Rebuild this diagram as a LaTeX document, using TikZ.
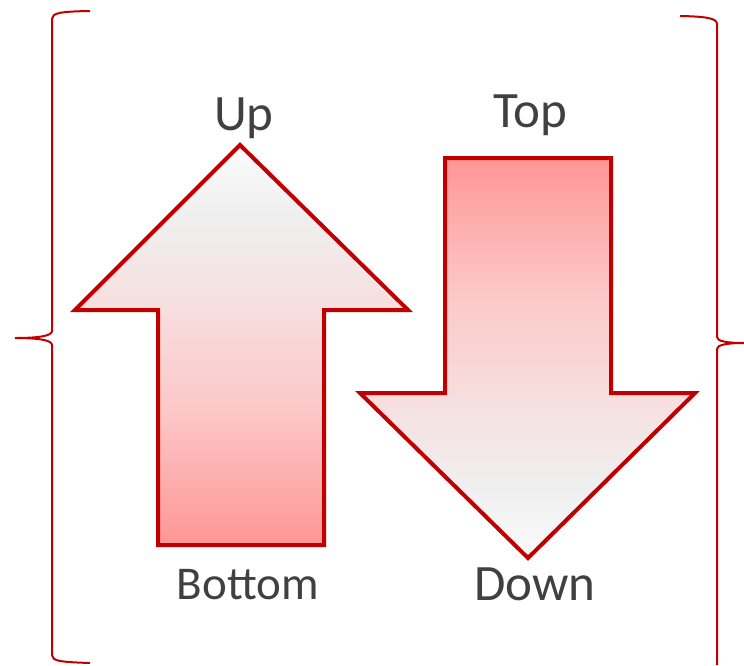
\documentclass[tikz,border=0pt]{standalone}
\usepackage{fontspec}
\setmainfont{Carlito}
\definecolor{darkred}{HTML}{C00000}
\definecolor{txt}{HTML}{404040}
\definecolor{pinkB}{HTML}{FF9595}
\definecolor{pinkM}{HTML}{FCC8C8}
\definecolor{pinkL}{HTML}{F6E2E2}
\definecolor{grayW}{HTML}{EFEFEF}
\definecolor{whiteT}{HTML}{FBFBFB}
\pgfdeclareverticalshading{upshade}{100bp}{color(0bp)=(pinkB); color(25bp)=(pinkB); color(42bp)=(pinkM); color(57bp)=(pinkL); color(66bp)=(grayW); color(75bp)=(whiteT); color(100bp)=(whiteT)}
\pgfdeclareverticalshading{downshade}{100bp}{color(0bp)=(whiteT); color(25bp)=(whiteT); color(34bp)=(grayW); color(43bp)=(pinkL); color(58bp)=(pinkM); color(75bp)=(pinkB); color(100bp)=(pinkB)}
\tikzset{
  arrowshape/.style={draw=darkred, line width=4pt, line join=miter},
  bracestyle/.style={draw=darkred, line width=2pt},
  lbl/.style={text=txt, font=\fontsize{51}{60}\selectfont, anchor=base, inner sep=0pt},
  lblsmall/.style={text=txt, font=\fontsize{47}{55}\selectfont, anchor=base, inner sep=0pt}
}
\begin{document}
\begin{tikzpicture}[x=1pt,y=-1pt]
\useasboundingbox (0,0) rectangle (744,665);
% left brace
\draw[bracestyle] (90,11) .. controls (60,11.5) and (52,13) .. (52,19) -- (52,331)
  .. controls (52,336) and (38,338) .. (15,338)
  .. controls (38,338) and (52,340) .. (52,345) -- (52,655)
  .. controls (52,661) and (60,662) .. (90,663);
% right brace
\draw[bracestyle] (680,16) .. controls (705,16.5) and (717,18) .. (717,24) -- (717,337)
  .. controls (717,341) and (726,343) .. (744,343)
  .. controls (726,343) and (717,345) .. (717,349) -- (717,665);
% up arrow
\coordinate (uptip) at (240,145);
\path[arrowshape, shading=upshade] (uptip) -- (408,310) -- (324,310) -- (324,545) -- (158,545) -- (158,310) -- (75,310) -- cycle;
% down arrow
\coordinate (downtip) at (528,558);
\path[arrowshape, shading=downshade] (445,158) -- (611,158) -- (611,393) -- (695,393) -- (downtip) -- (360,393) -- (445,393) -- cycle;
% labels
\node[lbl] (up) at (244,130) {Up};
\node[lbl] (top) at (530,127) {Top};
\node[lblsmall] (bottom) at (248,599) {Bottom};
\node[lbl] (down) at (535,600) {Down};
\end{tikzpicture}
\end{document}
